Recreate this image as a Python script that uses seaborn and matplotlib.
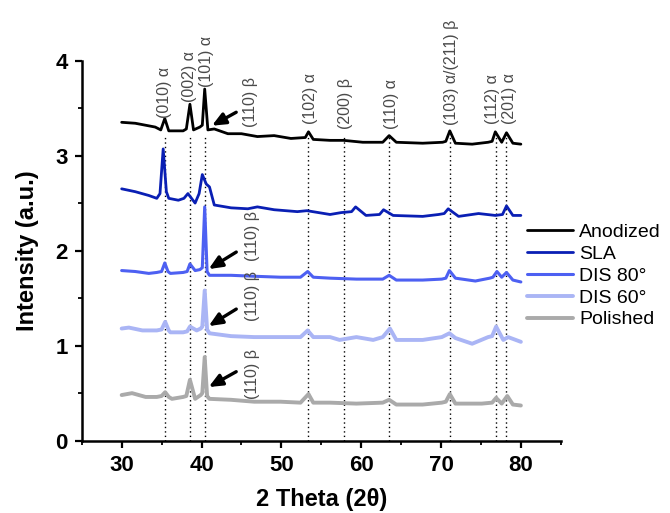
import matplotlib
matplotlib.use("Agg")
import matplotlib.pyplot as plt
from matplotlib.ticker import MultipleLocator
import pandas as pd
import seaborn as sns

# values
anod_x = [30, 31.7, 34.2, 34.9, 35.4, 35.9, 37.7, 38.1, 38.55, 39.0, 39.8, 40.1, 40.4, 40.8, 41.6,
          43.3, 45.0, 47.0, 49.1, 51.2, 53.0, 53.4, 54.0, 56.1, 57.8, 60.2, 62.7, 63.5, 64.4,
          67.7, 70.2, 70.6, 71.1, 71.8, 73.9, 75.9, 76.4, 76.8, 77.6, 78.2, 79.0, 80.0]
anod_y = [3.35, 3.34, 3.30, 3.27, 3.39, 3.26, 3.26, 3.28, 3.54, 3.27, 3.30, 3.32, 3.70, 3.27, 3.28,
          3.23, 3.23, 3.20, 3.21, 3.18, 3.19, 3.25, 3.17, 3.16, 3.16, 3.14, 3.14, 3.21, 3.14,
          3.13, 3.14, 3.15, 3.26, 3.13, 3.12, 3.14, 3.15, 3.25, 3.14, 3.24, 3.13, 3.12]

sla_x = [30, 31.7, 33.4, 34.4, 34.8, 35.2, 35.6, 35.9, 37.1, 37.8, 38.3, 39.2, 39.7, 40.1, 40.6,
         41.0, 41.6, 43.7, 45.8, 47.0, 49.1, 52.0, 53.2, 56.1, 57.5, 58.8, 59.3, 60.6, 62.3,
         62.8, 64.0, 67.7, 69.7, 70.4, 70.9, 72.2, 74.7, 76.8, 77.7, 78.2, 79.0, 80.0]
sla_y = [2.65, 2.62, 2.58, 2.55, 2.60, 3.07, 2.62, 2.55, 2.53, 2.55, 2.60, 2.50, 2.60, 2.80, 2.70,
         2.67, 2.48, 2.45, 2.44, 2.46, 2.43, 2.41, 2.42, 2.38, 2.40, 2.41, 2.46, 2.37, 2.38,
         2.43, 2.37, 2.36, 2.38, 2.39, 2.44, 2.36, 2.39, 2.37, 2.38, 2.47, 2.37, 2.37]

d80_x = [30, 31.7, 33.4, 34.4, 35.0, 35.4, 35.8, 36.1, 37.7, 38.2, 38.55, 39.2, 39.8, 40.1, 40.4,
         40.7, 41.0, 43.7, 46.6, 49.9, 52.4, 53.3, 54.0, 56.1, 59.4, 62.7, 63.5, 64.4, 67.7,
         70.1, 70.6, 71.05, 71.8, 74.3, 76.1, 76.5, 77.0, 77.6, 78.2, 79.0, 80.0]
d80_y = [1.79, 1.78, 1.76, 1.77, 1.78, 1.87, 1.78, 1.76, 1.77, 1.78, 1.86, 1.79, 1.80, 1.82, 2.46,
         1.78, 1.74, 1.74, 1.73, 1.72, 1.72, 1.78, 1.72, 1.71, 1.70, 1.70, 1.74, 1.69, 1.69,
         1.70, 1.71, 1.79, 1.71, 1.68, 1.71, 1.72, 1.78, 1.72, 1.77, 1.69, 1.67]

d60_x = [30, 30.9, 32.6, 34.4, 35.0, 35.45, 35.9, 36.1, 37.7, 38.2, 38.55, 39.4, 39.9, 40.1, 40.4,
         40.7, 41.0, 43.7, 46.6, 49.9, 52.4, 53.3, 54.0, 56.1, 57.3, 59.4, 61.5, 62.7, 63.6,
         64.4, 67.7, 70.1, 71.05, 71.8, 73.9, 75.9, 76.4, 76.9, 77.8, 78.4, 80.0]
d60_y = [1.18, 1.19, 1.16, 1.16, 1.17, 1.25, 1.16, 1.14, 1.14, 1.15, 1.20, 1.16, 1.18, 1.20, 1.58,
         1.17, 1.13, 1.10, 1.09, 1.09, 1.09, 1.16, 1.09, 1.09, 1.06, 1.09, 1.06, 1.09, 1.18,
         1.06, 1.06, 1.09, 1.13, 1.08, 1.02, 1.09, 1.10, 1.20, 1.06, 1.09, 1.04]

pol_x = [30, 31.3, 33.0, 34.4, 35.0, 35.45, 35.9, 36.3, 37.7, 38.1, 38.55, 39.2, 39.9, 40.1, 40.4,
         40.7, 41.0, 43.7, 46.6, 49.9, 52.4, 53.4, 54.0, 56.1, 59.4, 62.7, 63.5, 64.4, 67.7,
         70.1, 70.6, 71.1, 71.8, 75.1, 76.4, 76.9, 77.6, 78.3, 79.0, 80.0]
pol_y = [0.48, 0.50, 0.46, 0.46, 0.47, 0.51, 0.46, 0.44, 0.46, 0.47, 0.64, 0.44, 0.48, 0.50, 0.88,
         0.47, 0.44, 0.43, 0.41, 0.41, 0.40, 0.49, 0.40, 0.40, 0.39, 0.40, 0.43, 0.38, 0.38,
         0.40, 0.41, 0.49, 0.39, 0.39, 0.40, 0.45, 0.39, 0.47, 0.38, 0.37]

series = ["Anodized", "SLA", "DIS 80°", "DIS 60°", "Polished"]
colors = ["#000000", "#0a1fb4", "#4d60f2", "#aab5f5", "#aaaaaa"]
widths = [2.0, 2.0, 2.2, 2.8, 2.8]

peak_pos = [35.4, 38.6, 40.5, 53.3, 57.8, 63.5, 71.1, 76.9, 78.2]
peak_labels = ["(010) α", "(002) α", "(101) α", "(110) β", "(102) α", "(200) β", "(110) α",
               "(103) α/(211) β", "(112) α", "(201) α"]
label_x = [35.4, 38.5, 40.6, 46.1, 53.6, 58.0, 63.8, 71.3, 76.5, 78.6]
label_y = [3.40, 3.56, 3.72, 3.30, 3.33, 3.28, 3.28, 3.32, 3.33, 3.33]

beta_x = [46.4, 46.4, 46.4]
beta_y = [1.89, 1.26, 0.44]
arrow_tail = [(44.65, 3.47), (44.65, 2.00), (44.65, 1.40), (44.65, 0.74)]
arrow_head = [(41.0, 3.30), (40.6, 1.79), (40.6, 1.19), (40.6, 0.55)]

frames = []
for name, xs, ys in zip(series, [anod_x, sla_x, d80_x, d60_x, pol_x],
                        [anod_y, sla_y, d80_y, d60_y, pol_y]):
    frames.append(pd.DataFrame({"theta": xs, "intensity": ys, "sample": name}))
df = pd.concat(frames, ignore_index=True)

sns.set_style("ticks", {"axes.edgecolor": "black", "text.color": "black",
                        "xtick.color": "black", "ytick.color": "black",
                        "axes.labelcolor": "black"})
plt.rcParams["font.family"] = ["Liberation Sans", "DejaVu Sans"]

fig = plt.figure(figsize=(6.7, 5.13), dpi=100)
ax = fig.add_axes([0.122, 0.141, 0.715, 0.741])

for x in peak_pos:
    ax.plot([x, x], [0, 3.2], color="black", ls=(0, (1, 2.2)), lw=1.0, zorder=1)

for name, c, w in zip(series, colors, widths):
    sns.lineplot(data=df[df["sample"] == name], x="theta", y="intensity", color=c,
                 lw=w, label=name, estimator=None, ax=ax, zorder=3)

for lx, ly, t in zip(label_x, label_y, peak_labels):
    ax.text(lx, ly, t, rotation=90, ha="center", va="bottom", fontsize=11.5, color="#4a4a4a")
for bx, by in zip(beta_x, beta_y):
    ax.text(bx, by, "(110) β", rotation=90, ha="center", va="bottom", fontsize=11.5,
            color="#4a4a4a")
for (tx, ty), (hx, hy) in zip(arrow_tail, arrow_head):
    ax.annotate("", xy=(hx, hy), xytext=(tx, ty), zorder=5,
                arrowprops=dict(arrowstyle="-|>,head_length=0.8,head_width=0.35",
                                color="black", lw=2.4))

ax.set_xlim(25, 85)
ax.set_ylim(0, 4)
ax.set_xticks([30, 40, 50, 60, 70, 80])
ax.set_yticks([0, 1, 2, 3, 4])
ax.xaxis.set_minor_locator(MultipleLocator(5))
ax.yaxis.set_minor_locator(MultipleLocator(0.5))
ax.tick_params(which="major", length=5, width=1.6, labelsize=16, pad=5, colors="black")
ax.tick_params(which="minor", length=3, width=1.3, colors="black")
for lab in ax.get_xticklabels() + ax.get_yticklabels():
    lab.set_fontweight("bold")
for s in ["left", "bottom"]:
    ax.spines[s].set_linewidth(1.8)
    ax.spines[s].set_color("black")
sns.despine(ax=ax)
ax.set_xlabel("2 Theta (2θ)", fontsize=17, fontweight="bold", color="black")
ax.set_ylabel("Intensity (a.u.)", fontsize=17, fontweight="bold", color="black")
ax.xaxis.set_label_coords(0.5, -0.125)
ax.yaxis.set_label_coords(-0.09, 0.5)

leg = ax.legend(loc="upper left", bbox_to_anchor=(0.929, 0.572), frameon=False, fontsize=14,
                handlelength=2.4, handletextpad=0.3, labelspacing=0.22, borderaxespad=0,
                borderpad=0)
for t in leg.get_texts():
    t.set_color("black")

fig.savefig("out.png", dpi=100)
